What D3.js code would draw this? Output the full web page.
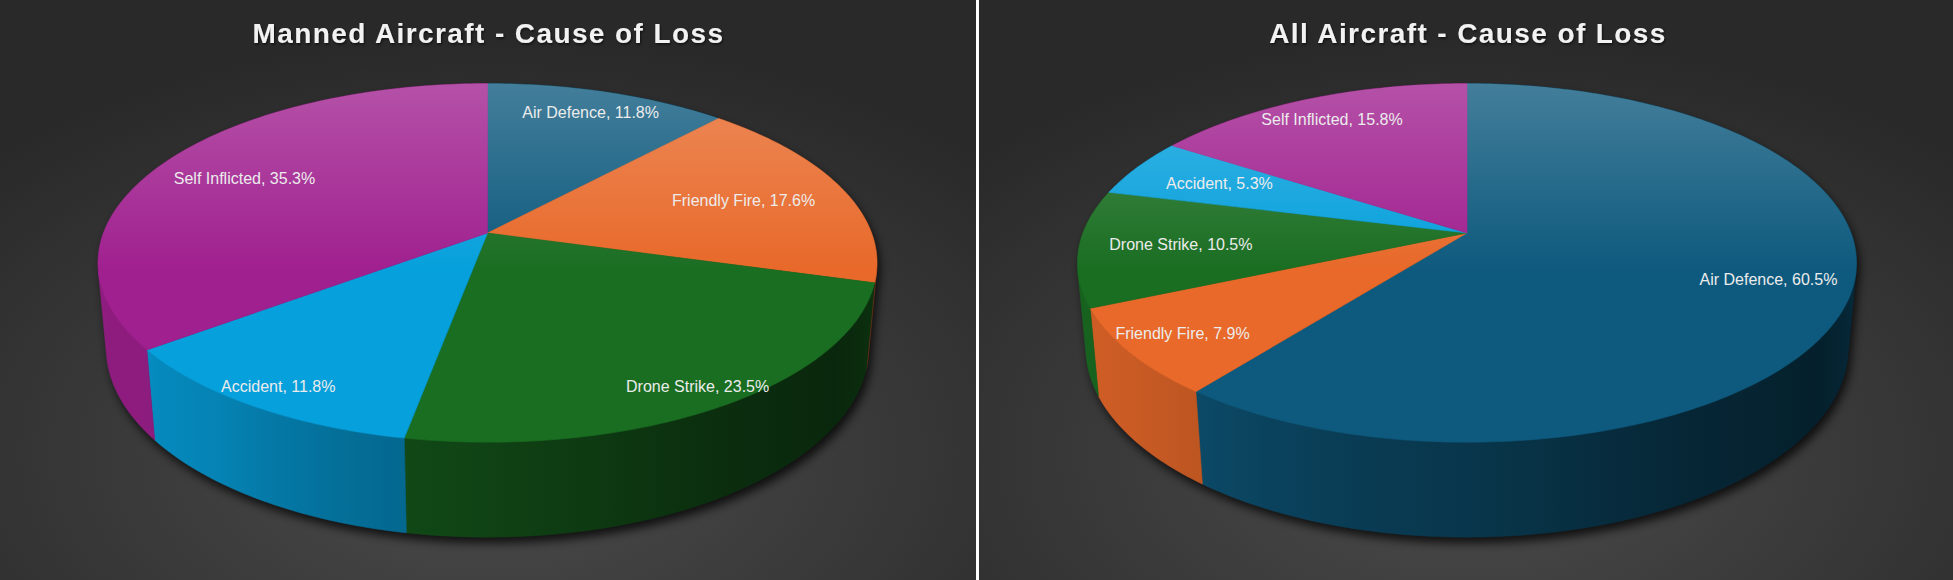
<!DOCTYPE html>
<html>
<head>
<meta charset="utf-8">
<script src="https://cdn.jsdelivr.net/npm/d3@7"></script>
<style>
  html, body { margin: 0; padding: 0; background: #2b2b2b; }
  svg { display: block; }
</style>
</head>
<body>
<div id="chart"></div>
<script>
// values (percent of losses)
const causes = ["Air Defence", "Friendly Fire", "Drone Strike", "Accident", "Self Inflicted"];
const mannedShare = [11.8, 17.6, 23.5, 11.8, 35.3];
const allShare = [60.5, 7.9, 10.5, 5.3, 15.8];
const chartTitles = ["Manned Aircraft - Cause of Loss", "All Aircraft - Cause of Loss"];
const causeColors = ["#0e5a7e", "#e8692a", "#1a6e22", "#06a0dc", "#a0208f"];

const W = 1953, H = 580;

// camera for the tilted 3D pie
const elev = 27 * Math.PI / 180;
const sinE = Math.sin(elev), cosE = Math.cos(elev);
const camDist = 5.35, focal = 2055, depthZ = 0.25;
const apexY = 233;

// shading of the side wall by angle (fraction toward black)
const wallShade = d3.scaleLinear()
  .domain([102, 125, 150, 180, 200, 218, 235, 258].map(d => d * Math.PI / 180))
  .range([0.52, 0.65, 0.58, 0.4, 0.3, 0.18, 0.12, 0.1])
  .clamp(true);

function add_svg(wrapper)
{
  let svg = d3.select(wrapper).select("svg");
  if (svg.empty())
    svg = d3.select(wrapper).append("svg");
  else
    svg.selectAll("*").remove();
  return svg.attr("width", W).attr("height", H);
}

function project(cx, a, r, z)
{
  let X = r * Math.sin(a), Y = r * Math.cos(a);
  let yc = Y * sinE + z * cosE;
  let dep = Y * cosE - z * sinE;
  let k = focal / (camDist + dep);
  return [cx + X * k, apexY - yc * k];
}

function arcPoints(cx, a0, a1, z)
{
  let n = Math.max(2, Math.ceil(Math.abs(a1 - a0) / (Math.PI / 180)));
  return d3.range(n + 1).map(i => project(cx, a0 + (a1 - a0) * i / n, 1, z));
}

const line = d3.line();

function draw_pie(svg, defs, id, cx, values, title)
{
  let g = svg.append("g").attr("class", "pie-" + id);
  let arcs = d3.pie().sort(null).value(d => d)(values);
  let aVis = Math.acos(-1 / (camDist * cosE));
  let bVis = 2 * Math.PI - aVis;

  // soft shadow
  let sh = g.append("g")
    .attr("filter", "url(#blur)")
    .attr("opacity", 0.75)
    .attr("transform", "translate(3,6)");
  sh.append("path")
    .attr("d", line(arcPoints(cx, 0, 2 * Math.PI, 0)) + "Z")
    .attr("fill", "#000");
  sh.append("path")
    .attr("d", line(arcPoints(cx, aVis, bVis, 0).concat(arcPoints(cx, bVis, aVis, -depthZ))) + "Z")
    .attr("fill", "#000");

  // side walls
  arcs.forEach((d, i) => {
    let a0 = Math.max(d.startAngle, aVis), a1 = Math.min(d.endAngle, bVis);
    if (a1 <= a0) return;
    let gid = "wall-" + id + "-" + i;
    let x1 = project(cx, a0, 1, 0)[0], x2 = project(cx, a1, 1, 0)[0];
    let grad = defs.append("linearGradient")
      .attr("id", gid)
      .attr("gradientUnits", "userSpaceOnUse")
      .attr("x1", x1).attr("x2", x2).attr("y1", 0).attr("y2", 0);
    let n = Math.max(2, Math.ceil((a1 - a0) / (4 * Math.PI / 180)));
    d3.range(n + 1).forEach(j => {
      let a = a0 + (a1 - a0) * j / n;
      grad.append("stop")
        .attr("offset", (project(cx, a, 1, 0)[0] - x1) / (x2 - x1))
        .attr("stop-color", d3.interpolateRgb(causeColors[i], "#000")(wallShade(a)));
    });
    let pts = arcPoints(cx, a0, a1, 0).concat(arcPoints(cx, a1, a0, -depthZ));
    g.append("path")
      .attr("d", line(pts) + "Z")
      .attr("fill", "url(#" + gid + ")")
      .attr("stroke", "url(#" + gid + ")")
      .attr("stroke-width", 0.6);
  });

  // top face slices
  let apex = project(cx, 0, 0, 0);
  arcs.forEach((d, i) => {
    let pts = [apex].concat(arcPoints(cx, d.startAngle, d.endAngle, 0));
    g.append("path")
      .attr("d", line(pts) + "Z")
      .attr("fill", causeColors[i])
      .attr("stroke", causeColors[i])
      .attr("stroke-width", 0.6);
  });

  // sheen on top face
  g.append("path")
    .attr("d", line(arcPoints(cx, 0, 2 * Math.PI, 0)) + "Z")
    .attr("fill", "url(#sheen)");

  // data labels
  arcs.forEach((d, i) => {
    let mid = (d.startAngle + d.endAngle) / 2;
    let rim = project(cx, mid, 1, 0);
    let cm = Math.cos(mid);
    let k = cm >= 0 ? 0.67 + 0.2 * cm : 0.72 + 0.2 * Math.abs(cm);
    g.append("text")
      .attr("x", apex[0] + k * (rim[0] - apex[0]))
      .attr("y", apex[1] + k * (rim[1] - apex[1]))
      .attr("text-anchor", "middle")
      .attr("dominant-baseline", "central")
      .attr("font-family", "'Liberation Sans', Arial, sans-serif")
      .attr("font-size", 16)
      .attr("fill", "#ececec")
      .text(causes[i] + ", " + values[i].toFixed(1) + "%");
  });

  svg.append("text")
    .attr("x", cx + 1)
    .attr("y", 43)
    .attr("text-anchor", "middle")
    .attr("font-family", "'Liberation Sans', Arial, sans-serif")
    .attr("font-weight", "bold")
    .attr("font-size", 28)
    .attr("letter-spacing", "1.4px")
    .attr("fill", "#f2f2f2")
    .attr("filter", "url(#tshadow)")
    .text(title);
}

function draw_chart(wrapper)
{
  let svg = add_svg(wrapper);
  let defs = svg.append("defs");

  let bg = defs.append("radialGradient").attr("id", "bg")
    .attr("cx", "50%").attr("cy", "78%").attr("r", "72%");
  bg.append("stop").attr("offset", 0).attr("stop-color", "#4c4c4c");
  bg.append("stop").attr("offset", 1).attr("stop-color", "#292929");

  let sheen = defs.append("linearGradient").attr("id", "sheen")
    .attr("gradientUnits", "userSpaceOnUse")
    .attr("x1", 0).attr("x2", 0).attr("y1", 83).attr("y2", 270);
  sheen.append("stop").attr("offset", 0).attr("stop-color", "#fff").attr("stop-opacity", 0.22);
  sheen.append("stop").attr("offset", 1).attr("stop-color", "#fff").attr("stop-opacity", 0);

  defs.append("filter").attr("id", "blur")
    .attr("x", "-10%").attr("y", "-10%").attr("width", "120%").attr("height", "130%")
    .append("feGaussianBlur").attr("stdDeviation", 5);

  let ts = defs.append("filter").attr("id", "tshadow");
  ts.append("feDropShadow").attr("dx", 1).attr("dy", 1.5)
    .attr("stdDeviation", 1.2).attr("flood-color", "#000").attr("flood-opacity", 0.6);

  svg.append("rect").attr("x", 0).attr("y", 0).attr("width", 976).attr("height", H).attr("fill", "url(#bg)");
  svg.append("rect").attr("x", 979).attr("y", 0).attr("width", W - 979).attr("height", H).attr("fill", "url(#bg)");
  svg.append("rect").attr("x", 976).attr("y", 0).attr("width", 3).attr("height", H).attr("fill", "#ffffff");

  draw_pie(svg, defs, "manned", 487.5, mannedShare, chartTitles[0]);
  draw_pie(svg, defs, "all", 1467, allShare, chartTitles[1]);
}

draw_chart("#chart");
</script>
</body>
</html>
